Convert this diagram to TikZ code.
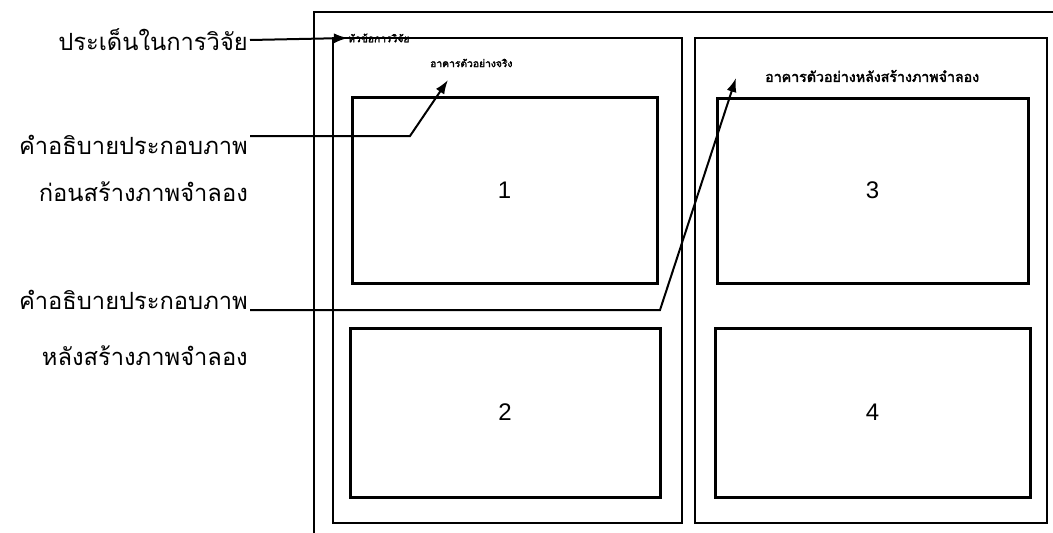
\documentclass[tikz,border=0pt]{standalone}
\usepackage{fontspec}
\setmainfont{Liberation Sans}
\newfontfamily\thai[Script=Thai]{Loma}
\newfontfamily\thaibold[Script=Thai,FakeBold=2.5]{Loma}
\usetikzlibrary{arrows.meta}
\tikzset{
  frame/.style={draw, line width=2.2pt, inner sep=0pt, outer sep=0pt, anchor=north west},
  pic/.style={frame, line width=3pt, font=\fontsize{24}{28}\selectfont},
  lab/.style={font=\thai\fontsize{23.7}{28}\selectfont, anchor=east, inner sep=0pt},
  captext/.style={font=\thaibold\fontsize{10.3}{12}\selectfont, inner sep=0pt},
  conn/.style={line width=2pt, -{Latex[length=14pt,width=10pt]}},
}
\begin{document}
\begin{tikzpicture}[x=1pt,y=-1pt]
\useasboundingbox (0,0) rectangle (1053,533);
\fill[white] (0,0) rectangle (1053,533);
% outer frame (extends beyond the page)
\begin{scope}
\clip (0,0) rectangle (1053,533);
\draw[line width=2.2pt] (314,545) -- (314,12) -- (1065,12);
\end{scope}
% panels
\node[frame, minimum width=349pt, minimum height=485pt] (lp) at (333,38) {};
\node[frame, minimum width=352pt, minimum height=485pt] (rp) at (695,38) {};
% picture boxes
\node[pic, minimum width=305pt, minimum height=186pt] (b1) at (352,97) {1};
\node[pic, minimum width=310pt, minimum height=169pt] (b2) at (350,328) {2};
\node[pic, minimum width=311pt, minimum height=185pt] (b3) at (717,98) {3};
\node[pic, minimum width=315pt, minimum height=169pt] (b4) at (715,328) {4};
% captions inside panels
\node[captext, anchor=west] (title) at (348,38) {หัวข้อการวิจัย};
\node[captext, anchor=west] (c1) at (430,63) {อาคารตัวอย่างจริง};
\node[captext, anchor=west, font=\thaibold\fontsize{14.2}{16}\selectfont] (c2) at (765,76) {อาคารตัวอย่างหลังสร้างภาพจำลอง};
% left labels
\node[lab] (l1) at (248,40) {ประเด็นในการวิจัย};
\node[lab] (l2a) at (248,145) {คำอธิบายประกอบภาพ};
\node[lab] (l2b) at (248,192) {ก่อนสร้างภาพจำลอง};
\node[lab] (l3a) at (248,300) {คำอธิบายประกอบภาพ};
\node[lab] (l3b) at (248,356) {หลังสร้างภาพจำลอง};
% connector points
\coordinate (s1) at (250,40);
\coordinate (s2) at (250,136);
\coordinate (k2) at (410,136);
\coordinate (t2) at (448,80);
\coordinate (s3) at (250,310);
\coordinate (k3) at (660,310);
\coordinate (t3) at (736,78);
\draw[conn] (s1) -- (title.west);
\draw[conn] (s2) -- (k2) -- (t2);
\draw[conn] (s3) -- (k3) -- (t3);
\end{tikzpicture}
\end{document}
